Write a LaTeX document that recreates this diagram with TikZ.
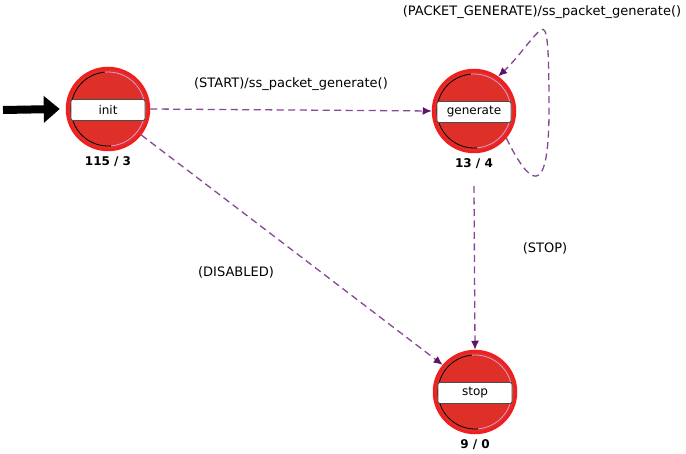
\documentclass[tikz,border=0pt]{standalone}
\usepackage{fontspec}
\setmainfont{DejaVu Sans}
\usetikzlibrary{arrows.meta}
\definecolor{stfill}{RGB}{222,48,40}
\definecolor{stedge}{RGB}{240,30,30}
\definecolor{ringpink}{RGB}{230,150,210}
\definecolor{trans}{RGB}{135,70,150}
\definecolor{tip}{RGB}{95,20,105}
\tikzset{
  statecirc/.style={circle, minimum size=82pt, fill=stfill, draw=stedge, line width=2.5pt, inner sep=0pt},
  namebox/.style={rounded corners=2pt, fill=white, draw=black!70, line width=0.9pt,
    minimum width=74pt, minimum height=21pt, inner sep=1pt, font=\fontsize{12}{14}\selectfont},
  countlbl/.style={font=\bfseries\fontsize{12}{14}\selectfont},
  trlabel/.style={font=\fontsize{13}{15}\selectfont},
  transition/.style={draw=trans, line width=1.3pt, dash pattern=on 7pt off 4.5pt,
    -{Latex[length=9pt,width=8pt,fill=tip,color=tip]}},
}
\newcommand{\fsmstate}[4]{%
  % #1 name, #2 position, #3 label, #4 counts
  \node[statecirc] (#1) at #2 {};
  \draw[black, line width=0.8pt] ([shift={(95:37pt)}]#1.center) arc (95:275:37pt);
  \draw[ringpink, line width=0.8pt] ([shift={(275:37pt)}]#1.center) arc (-85:95:37pt);
  \node[namebox] (#1box) at ([yshift=-1pt]#1.center) {#3};
  \node[countlbl] (#1cnt) at ([yshift=-53pt]#1.center) {#4};
}
\begin{document}
\begin{tikzpicture}[x=1pt,y=-1pt]
\useasboundingbox (0,0) rectangle (686,454);
\fsmstate{init}{(108,109)}{init}{115 / 3}
\fsmstate{gen}{(474,111)}{generate}{13 / 4}
\fsmstate{stop}{(475,392)}{stop}{9 / 0}

% entry arrow
\coordinate (entry) at (3,110);
\draw[black, line width=8pt, -{Triangle[length=16pt,width=26pt]}] (entry) -- ([xshift=-6pt]init.west);

% transitions
\draw[transition] (init.east) -- node[trlabel, above=15pt] {(START)/ss\_packet\_generate()} (gen.west);
\coordinate (disLbl) at (236,272);
\node[trlabel] (dislbl) at (disLbl) {(DISABLED)};
\draw[transition] (init.-38) -- (stop.140);
\coordinate (genOut) at (474,186);
\draw[transition] (genOut) -- (stop.north);
\node[trlabel] (stoplbl) at (545,248) {(STOP)};
\coordinate (loopB) at (541,30);
\draw[transition] (gen.-40) .. controls (528,182) and (549,205) .. (549,110)
  .. controls (549,40) and (547,26) .. (loopB)
  .. controls (534,34) and (518,58) .. (gen.55);
\node[trlabel] (looplbl) at (542,12) {(PACKET\_GENERATE)/ss\_packet\_generate()};
\end{tikzpicture}
\end{document}
